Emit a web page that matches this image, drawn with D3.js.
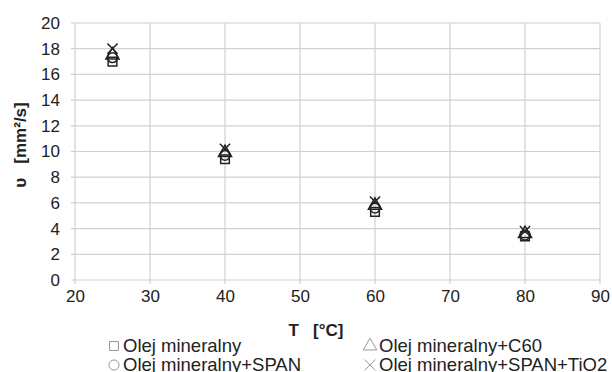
<!DOCTYPE html>
<html>
<head>
<meta charset="utf-8">
<script src="https://cdn.jsdelivr.net/npm/d3@7"></script>
<style>
  body { margin: 0; background: #fff; }
  svg { font-family: "Liberation Sans", Arial, sans-serif; }
</style>
</head>
<body>
<svg width="612" height="372"></svg>
<script>
// temperatury i lepkosci
const temps = [25, 40, 60, 80];
const olej = [17.0, 9.4, 5.3, 3.4];
const olejC60 = [17.5, 9.9, 5.8, 3.6];
const olejSpan = [17.3, 9.7, 5.6, 3.5];
const olejSpanTiO2 = [18.0, 10.2, 6.1, 3.8];
const xTicks = [20, 30, 40, 50, 60, 70, 80, 90];
const yTicks = [0, 2, 4, 6, 8, 10, 12, 14, 16, 18, 20];
const seriesNames = ["Olej mineralny", "Olej mineralny+C60", "Olej mineralny+SPAN", "Olej mineralny+SPAN+TiO2"];

const series = [
    { name: seriesNames[0], values: olej, symbol: d3.symbolSquare },
    { name: seriesNames[1], values: olejC60, symbol: d3.symbolTriangle },
    { name: seriesNames[2], values: olejSpan, symbol: d3.symbolCircle },
    { name: seriesNames[3], values: olejSpanTiO2, symbol: d3.symbolX }
];

const margin = { top: 23, right: 12, bottom: 92, left: 75 };
const width = 612, height = 372;
const innerWidth = width - margin.left - margin.right;
const innerHeight = height - margin.top - margin.bottom;

const svg = d3.select("svg");
const g = svg.append("g")
    .attr("transform", `translate(${margin.left},${margin.top})`);

const xScale = d3.scaleLinear().domain([20, 90]).range([0, innerWidth]);
const yScale = d3.scaleLinear().domain([0, 20]).range([innerHeight, 0]);

// siatka
const grid = "#d0d0d0";
g.append("g").selectAll("line").data(yTicks).enter().append("line")
    .attr("x1", -4).attr("x2", innerWidth)
    .attr("y1", d => yScale(d)).attr("y2", d => yScale(d))
    .attr("stroke", grid).attr("stroke-width", 1.2);
g.append("g").selectAll("line").data(xTicks).enter().append("line")
    .attr("x1", d => xScale(d)).attr("x2", d => xScale(d))
    .attr("y1", 0).attr("y2", innerHeight + 4)
    .attr("stroke", grid).attr("stroke-width", 1.2);

// etykiety osi
const xAxis = d3.axisBottom(xScale).tickValues(xTicks).tickSize(0).tickPadding(10);
const yAxis = d3.axisLeft(yScale).tickValues(yTicks).tickSize(0).tickPadding(15);

g.append("g")
    .attr("transform", `translate(0,${innerHeight})`)
    .call(xAxis)
    .call(a => a.select(".domain").remove())
    .selectAll("text").attr("font-size", 17).attr("fill", "#222")
    .attr("font-family", "Liberation Sans, Arial, sans-serif");

g.append("g")
    .call(yAxis)
    .call(a => a.select(".domain").remove())
    .selectAll("text").attr("font-size", 17).attr("fill", "#222")
    .attr("font-family", "Liberation Sans, Arial, sans-serif");

svg.append("text")
    .attr("x", 316)
    .attr("y", 336)
    .attr("text-anchor", "middle")
    .attr("font-size", 17).attr("font-weight", "bold").attr("fill", "#222")
    .attr("xml:space", "preserve")
    .text("T   [°C]");

svg.append("text")
    .attr("transform", `translate(26,145) rotate(-90)`)
    .attr("text-anchor", "middle")
    .attr("font-size", 17).attr("font-weight", "bold").attr("fill", "#222")
    .attr("xml:space", "preserve")
    .text("υ   [mm²/s]");

// punkty
series.forEach(function(s) {
    g.append("g").selectAll("path")
        .data(temps.map((t, i) => ({ t: t, v: s.values[i] })))
        .enter()
        .append("path")
        .attr("transform", d => `translate(${xScale(d.t)},${yScale(d.v)})`)
        .attr("d", d3.symbol().type(s.symbol).size(s.symbol === d3.symbolX ? 70 : 75))
        .attr("fill", "none")
        .attr("stroke", "#222")
        .attr("stroke-width", 1.5);
});

// legenda
const legendPos = [[114, 352], [370, 352], [114, 371], [370, 371]];
const legendSymbols = [d3.symbolSquare, d3.symbolTriangle, d3.symbolCircle, d3.symbolX];
const legend = svg.append("g");
seriesNames.forEach(function(name, i) {
    const [lx, ly] = legendPos[i];
    legend.append("path")
        .attr("transform", `translate(${lx},${ly - 6})`)
        .attr("d", d3.symbol().type(legendSymbols[i]).size(80))
        .attr("fill", "none")
        .attr("stroke", "#999")
        .attr("stroke-width", 1);
    legend.append("text")
        .attr("x", lx + 9)
        .attr("y", ly)
        .attr("font-size", 18.5).attr("fill", "#222")
        .text(name);
});
</script>
</body>
</html>
